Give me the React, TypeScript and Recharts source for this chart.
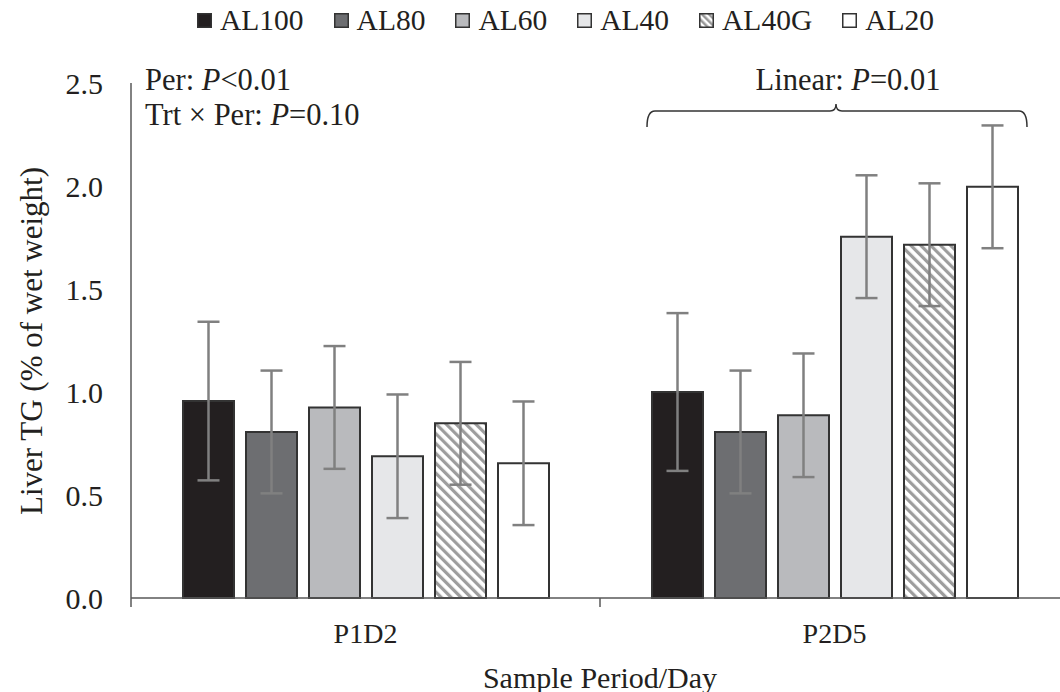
import React from "react";
import { BarChart, Bar, XAxis, YAxis, ErrorBar } from "recharts";

const categories = ["P1D2", "P2D5"];
const seriesNames = ["AL100", "AL80", "AL60", "AL40", "AL40G", "AL20"];
const AL100 = [0.956, 1.0];
const AL80 = [0.806, 0.806];
const AL60 = [0.925, 0.887];
const AL40 = [0.688, 1.754];
const AL40G = [0.848, 1.715];
const AL20 = [0.654, 1.996];
const AL100_err = [0.385, 0.383];
const AL80_err = [0.298, 0.298];
const AL60_err = [0.298, 0.3];
const AL40_err = [0.3, 0.298];
const AL40G_err = [0.298, 0.298];
const AL20_err = [0.3, 0.298];
const yTicks = [0, 0.5, 1.0, 1.5, 2.0, 2.5];

const values: Record<string, number[]> = { AL100, AL80, AL60, AL40, AL40G, AL20 };
const errors: Record<string, number[]> = {
  AL100: AL100_err, AL80: AL80_err, AL60: AL60_err, AL40: AL40_err, AL40G: AL40G_err, AL20: AL20_err,
};
const fills: Record<string, string> = {
  AL100: "#231f20",
  AL80: "#6d6e71",
  AL60: "#b9babd",
  AL40: "#e6e7e9",
  AL40G: "url(#hatch)",
  AL20: "#ffffff",
};

const data = categories.map((c, i) => {
  const row: any = { cat: c };
  seriesNames.forEach((s) => {
    row[s] = values[s][i];
    row[s + "_err"] = errors[s][i];
  });
  return row;
});

const FONT = '"Liberation Serif", "Times New Roman", serif';
const TXT = "#231f20";

const XTick = (props: any) => {
  const { x, y, payload, index } = props;
  const half = payload && payload.offset ? payload.offset : 234.5;
  return (
    <g>
      <line x1={x - half} x2={x - half} y1={y} y2={y + 9} stroke="#595959" strokeWidth={1.5} />
      {index === categories.length - 1 && (
        <line x1={x + half} x2={x + half} y1={y} y2={y + 9} stroke="#595959" strokeWidth={1.5} />
      )}
      <text x={x} y={y + 35} textAnchor="middle" dominantBaseline="central" fontFamily={FONT} fontSize={28} fill={TXT}>
        {payload.value}
      </text>
    </g>
  );
};

const Swatch = ({ name }: { name: string }) => (
  <svg width={15} height={15} style={{ display: "block" }}>
    <defs>
      <pattern id="hatchL" patternUnits="userSpaceOnUse" width={5} height={5} patternTransform="rotate(-45)">
        <rect x={0} y={0} width={5} height={5} fill="#ffffff" />
        <rect x={0} y={0} width={2.5} height={5} fill="#9a9a9a" />
      </pattern>
    </defs>
    <rect x={0.75} y={0.75} width={13.5} height={13.5} fill={name === "AL40G" ? "url(#hatchL)" : fills[name]} stroke="#333" strokeWidth={1.5} />
  </svg>
);

export default function App() {
  return (
    <div style={{ position: "absolute", left: 0, top: 0, width: 1060, height: 692, background: "#fff", overflow: "hidden" }}>
      <BarChart
        width={1071}
        height={692}
        data={data}
        margin={{ top: 83, right: 2, left: 0, bottom: 0 }}
        barCategoryGap={52}
        barGap={12}
      >
        <defs>
          <pattern id="hatch" patternUnits="userSpaceOnUse" width={7} height={7} patternTransform="rotate(-45)">
            <rect x={0} y={0} width={7} height={7} fill="#ffffff" />
            <rect x={0} y={0} width={3.2} height={7} fill="#9d9d9d" />
          </pattern>
        </defs>
        <XAxis
          dataKey="cat"
          height={94}
          axisLine={{ stroke: "#595959", strokeWidth: 1.5 }}
          tickLine={false}
          tickSize={0}
          tickMargin={0}
          tick={<XTick />}
          interval={0}
        />
        <YAxis
          width={131}
          domain={[0, 2.5]}
          ticks={yTicks}
          tickFormatter={(v: number) => v.toFixed(1)}
          axisLine={{ stroke: "#595959", strokeWidth: 1.5 }}
          tickLine={false}
          tickSize={0}
          tickMargin={28}
          tick={{ fontFamily: FONT, fontSize: 30, fill: TXT }}
        />
        {seriesNames.map((s) => (
          <Bar key={s} dataKey={s} fill={fills[s]} stroke="#333333" strokeWidth={2} isAnimationActive={false}>
            <ErrorBar dataKey={s + "_err"} width={11} strokeWidth={2.5} stroke="#808080" direction="y" />
          </Bar>
        ))}
      </BarChart>

      <svg width={1060} height={692} style={{ position: "absolute", left: 0, top: 0, pointerEvents: "none" }}>
        <text x={31} y={341} transform="rotate(-90 31 341)" textAnchor="middle" dominantBaseline="central" fontFamily={FONT} fontSize={31} fill={TXT}>
          Liver TG (% of wet weight)
        </text>
        <text x={600} y={677} textAnchor="middle" dominantBaseline="central" fontFamily={FONT} fontSize={30} fill={TXT}>
          Sample Period/Day
        </text>
        <text x={145} y={80} dominantBaseline="central" fontFamily={FONT} fontSize={30.5} fill={TXT}>
          Per: <tspan fontStyle="italic">P</tspan>{"<0.01"}
        </text>
        <text x={145} y={115} dominantBaseline="central" fontFamily={FONT} fontSize={30.5} fill={TXT}>
          Trt × Per: <tspan fontStyle="italic">P</tspan>=0.10
        </text>
        <text x={848} y={80} textAnchor="middle" dominantBaseline="central" fontFamily={FONT} fontSize={30.5} fill={TXT}>
          Linear: <tspan fontStyle="italic">P</tspan>=0.01
        </text>
        <path
          d="M647,127 Q647,111 655,111 L830,111 Q836,111 836,104 Q836,111 842,111 L1019,111 Q1027,111 1027,127"
          fill="none"
          stroke="#333"
          strokeWidth={1.5}
        />
      </svg>

      <div
        style={{
          position: "absolute",
          left: 197,
          top: 2,
          height: 36,
          display: "flex",
          alignItems: "center",
          fontFamily: FONT,
          fontSize: 29.5,
          color: TXT,
          whiteSpace: "nowrap",
        }}
      >
        {seriesNames.map((s) => (
          <div key={s} style={{ display: "flex", alignItems: "center", marginRight: 30 }}>
            <Swatch name={s} />
            <span style={{ marginLeft: 8 }}>{s}</span>
          </div>
        ))}
      </div>
    </div>
  );
}
